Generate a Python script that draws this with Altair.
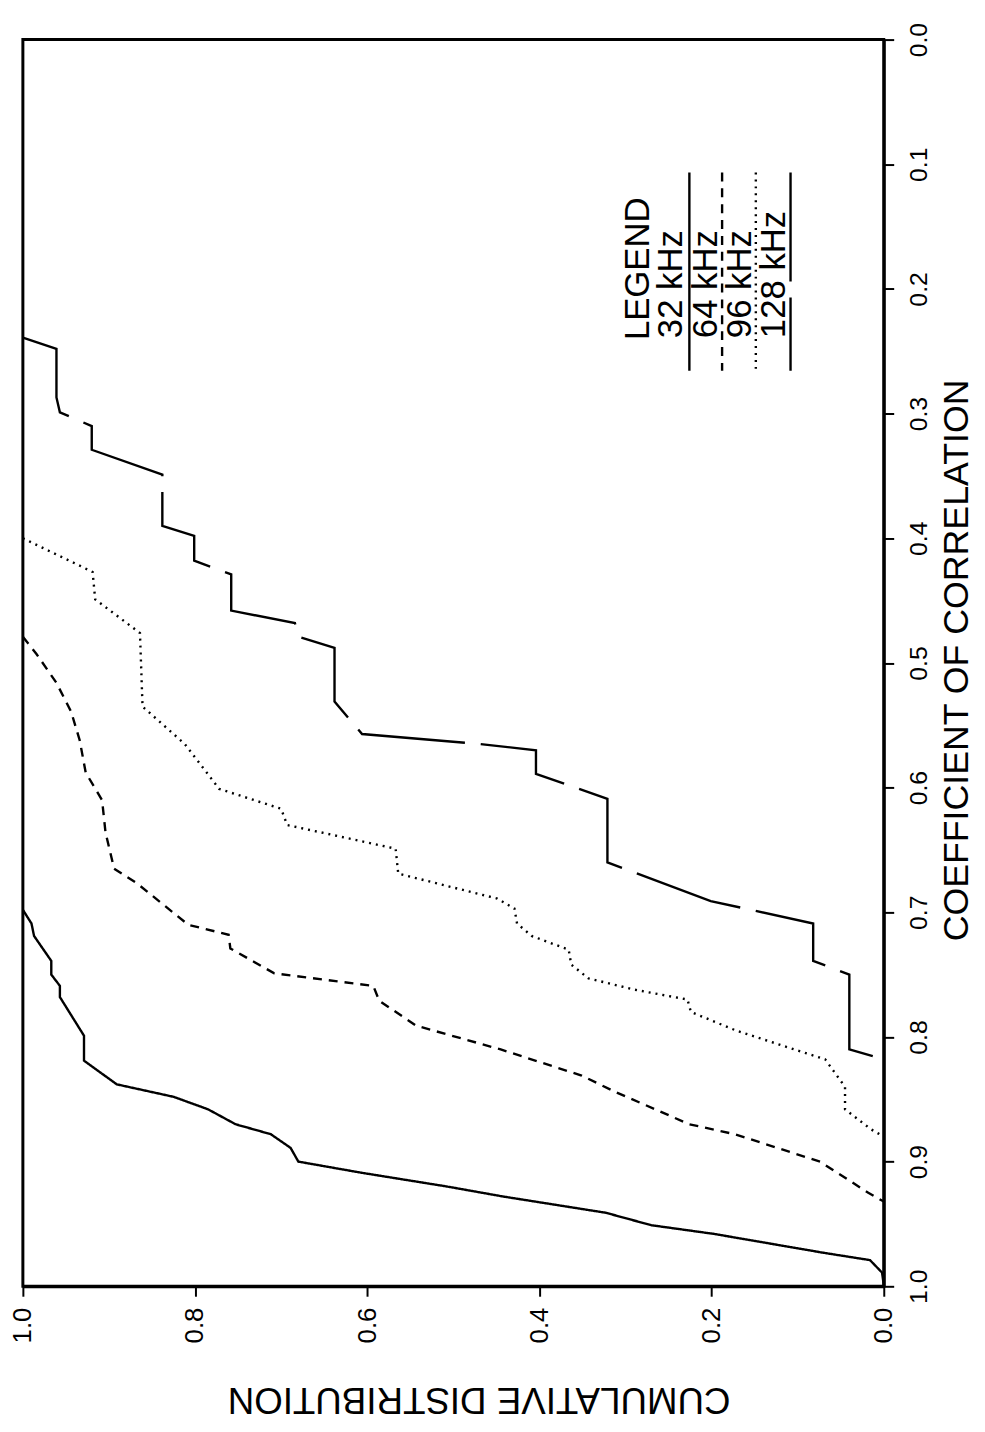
import altair as alt
import pandas as pd

# ---- data (correlation, cumulative distribution) ----
series_names = ["32 kHz", "64 kHz", "96 kHz", "128 kHz"]

corr_32 = [0.698, 0.709, 0.719, 0.739, 0.750, 0.759, 0.768, 0.799, 0.819, 0.838, 0.848, 0.858, 0.870,
           0.878, 0.889, 0.900, 0.909, 0.920, 0.928, 0.941, 0.951, 0.958, 0.973, 0.979, 0.989, 0.999]
cum_32 = [1.000, 0.990, 0.987, 0.967, 0.967, 0.957, 0.957, 0.929, 0.929, 0.891, 0.825, 0.785, 0.753,
          0.712, 0.689, 0.680, 0.606, 0.507, 0.442, 0.323, 0.270, 0.197, 0.071, 0.016, 0.002, 0.000]

corr_64 = [0.479, 0.493, 0.516, 0.539, 0.562, 0.588, 0.610, 0.636, 0.665, 0.677, 0.710, 0.718, 0.729,
           0.749, 0.759, 0.771, 0.791, 0.810, 0.831, 0.844, 0.870, 0.878, 0.900, 0.925, 0.932]
cum_64 = [1.000, 0.984, 0.961, 0.944, 0.934, 0.927, 0.908, 0.904, 0.894, 0.867, 0.808, 0.761, 0.759,
          0.708, 0.593, 0.586, 0.543, 0.445, 0.351, 0.312, 0.226, 0.173, 0.074, 0.018, 0.000]

corr_96 = [0.400, 0.427, 0.449, 0.476, 0.535, 0.565, 0.601, 0.617, 0.630, 0.649, 0.669, 0.689, 0.697,
           0.709, 0.719, 0.730, 0.742, 0.753, 0.762, 0.770, 0.780, 0.795, 0.818, 0.840, 0.858, 0.874, 0.880]
cum_96 = [1.000, 0.919, 0.916, 0.864, 0.861, 0.812, 0.772, 0.700, 0.693, 0.567, 0.564, 0.449, 0.429,
          0.426, 0.409, 0.366, 0.363, 0.343, 0.290, 0.228, 0.224, 0.171, 0.068, 0.045, 0.045, 0.015, 0.000]

corr_128 = [0.239, 0.248, 0.287, 0.299, 0.310, 0.329, 0.349, 0.390, 0.398, 0.418, 0.429, 0.458, 0.468,
            0.479, 0.488, 0.531, 0.557, 0.565, 0.570, 0.589, 0.609, 0.660, 0.691, 0.709, 0.739, 0.750,
            0.810, 0.818]
cum_128 = [1.000, 0.961, 0.961, 0.957, 0.920, 0.920, 0.838, 0.838, 0.801, 0.801, 0.758, 0.758, 0.684,
           0.680, 0.638, 0.638, 0.606, 0.470, 0.404, 0.404, 0.321, 0.321, 0.201, 0.082, 0.082, 0.040,
           0.040, 0.000]

cum_ticks = [0.0, 0.2, 0.4, 0.6, 0.8, 1.0]
corr_ticks = [0.0, 0.1, 0.2, 0.3, 0.4, 0.5, 0.6, 0.7, 0.8, 0.9, 1.0]

rows = []
for name, cs, ps in zip(series_names, [corr_32, corr_64, corr_96, corr_128],
                        [cum_32, cum_64, cum_96, cum_128]):
    for i, (c, p) in enumerate(zip(cs, ps)):
        rows.append({"series": name, "i": i, "corr": c, "cum": p})
df = pd.DataFrame(rows)

FONT = "Liberation Sans, Arial, Helvetica, sans-serif"
dashes = [[1, 0], [9, 7], [2, 5], [110, 16]]
W, H = 868, 1257

lines = alt.Chart(df).mark_line(color="black", strokeWidth=2.4).encode(
    x=alt.X("cum:Q",
            scale=alt.Scale(domain=[0, 1], reverse=True, nice=False, zero=False),
            axis=alt.Axis(values=cum_ticks, format=".1f", title=None, grid=False,
                          labelAngle=270, labelAlign="right", labelBaseline="middle",
                          labelFont=FONT, labelFontSize=26, labelColor="black",
                          labelPadding=11, labelFlush=False, labelOverlap=False,
                          tickSize=10, tickWidth=2, tickColor="black",
                          domainColor="black", domainWidth=3)),
    y=alt.Y("corr:Q",
            scale=alt.Scale(domain=[0, 1], reverse=True, nice=False, zero=False),
            axis=alt.Axis(orient="right", values=corr_ticks, format=".1f", title=None, grid=False,
                          labelAngle=270, labelAlign="center", labelBaseline="top",
                          labelFont=FONT, labelFontSize=25, labelColor="black",
                          labelPadding=13, labelFlush=False, labelOverlap=False,
                          tickSize=10, tickWidth=2, tickColor="black",
                          domainColor="black", domainWidth=3)),
    strokeDash=alt.StrokeDash("series:N",
                              scale=alt.Scale(domain=series_names, range=dashes),
                              legend=None),
    detail="series:N",
    order="i:Q",
)

one = pd.DataFrame({"k": [0]})


def label(txt, x, y, angle, size, align="left"):
    return alt.Chart(one).mark_text(
        text=txt, angle=angle, align=align, baseline="middle",
        font=FONT, fontSize=size, color="black"
    ).encode(x=alt.value(x), y=alt.value(y))


# legend (drawn inside the plot as in the original figure)
legend_layers = [label("LEGEND", 620, 303, 270, 35)]
label_x = [654, 689, 723, 757]
sample_x = [672, 705, 739, 774]
for name, lx, sx, d in zip(series_names, label_x, sample_x, dashes):
    legend_layers.append(label(name, lx, 301, 270, 35))
    legend_layers.append(
        alt.Chart(one).mark_rule(color="black", strokeWidth=2.4, strokeDash=d).encode(
            x=alt.value(sx), y=alt.value(134), y2=alt.value(334)))

titles = [
    label("COEFFICIENT OF CORRELATION", 942, 626, 270, 36, align="center"),
    label("CUMULATIVE DISTRIBUTION", 460, 1371, 180, 37, align="center"),
]

chart = alt.layer(lines, *legend_layers, *titles).properties(
    width=W, height=H,
    autosize=alt.AutoSizeParams(type="none"),
    padding={"left": 15, "top": 26, "right": 94, "bottom": 135},
    background="white",
).configure_view(stroke="black", strokeWidth=3)

chart.save("out.html", embed_options={"renderer": "svg", "actions": False})
